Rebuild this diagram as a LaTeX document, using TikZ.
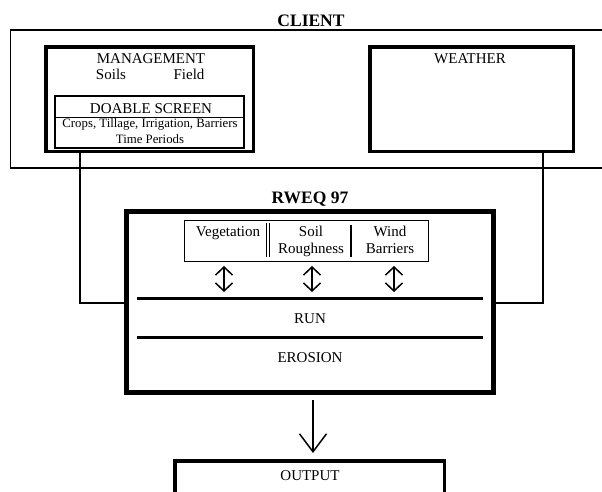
\documentclass[tikz,border=0pt]{standalone}
\usepackage{fontspec}
\setmainfont{Liberation Serif}
\usetikzlibrary{arrows.meta,positioning,calc}

\begin{document}
\begin{tikzpicture}[x=1pt,y=-1pt,
    thinbox/.style={draw,line width=1.2pt,inner sep=0pt},
    thickbox/.style={draw,line width=3.5pt,inner sep=0pt},
    lbl/.style={anchor=base,inner sep=0pt,font=\fontsize{15}{17}\selectfont},
    smalllbl/.style={anchor=base,inner sep=0pt,font=\fontsize{12.8}{15}\selectfont},
    title/.style={anchor=base,inner sep=0pt,font=\fontsize{17.5}{20}\selectfont\bfseries},
    link/.style={line width=1.5pt},
    divider/.style={line width=3pt},
    updown/.style={{Straight Barb[length=8pt,width=17pt]}-{Straight Barb[length=8pt,width=17pt]},line width=1.5pt}]
    \useasboundingbox (0,0) rectangle (602,491);
    % client side
    \node[title] (clienttitle) at (311,26) {CLIENT};
    \node[thinbox,minimum width=629.5pt,minimum height=138pt] (client) at (325.25,99) {};
    \node[thickbox,minimum width=207.5pt,minimum height=104.5pt] (mgmt) at (149.5,99) {};
    \node[lbl] (mgmttitle) at (151,63) {MANAGEMENT};
    \node[lbl] (soils) at (111,79) {Soils};
    \node[lbl] (field) at (189,79) {Field};
    \node[thinbox,minimum width=189pt,minimum height=52pt] (doable) at (149.5,122) {};
    \draw[line width=1pt] (doable.west |- 0,117) -- (doable.east |- 0,117);
    \node[lbl] (doabletitle) at (151,113) {DOABLE SCREEN};
    \node[smalllbl] (crops) at (150,127) {Crops, Tillage, Irrigation, Barriers};
    \node[smalllbl] (periods) at (150,143) {Time Periods};
    \node[thickbox,minimum width=203.5pt,minimum height=104.5pt] (weather) at (471.5,99) {};
    \node[lbl] (weathertitle) at (470,63) {WEATHER};
    % model
    \node[title] (rweqtitle) at (310,203) {RWEQ 97};
    \node[draw,line width=5pt,inner sep=0pt,minimum width=367pt,minimum height=181pt] (rweq) at (310,302) {};
    \node[thinbox,minimum width=244pt,minimum height=41pt] (factors) at (306.5,241) {};
    \node[lbl] (veg) at (228,236) {Vegetation};
    \node[lbl] (soil) at (311,236) {Soil};
    \node[lbl] (rough) at (311,253) {Roughness};
    \node[lbl] (wind) at (390,236) {Wind};
    \node[lbl] (barriers) at (390,253) {Barriers};
    \draw[line width=0.9pt] (266.5,223) -- (266.5,257) (269.5,223) -- (269.5,257);
    \draw[line width=2pt] (351,225) -- (351,257);
    \coordinate (runtop) at (137,298);
    \coordinate (runbot) at (137,337);
    \draw[divider] (runtop) -- (483,298);
    \draw[divider] (runbot) -- (483,337);
    \foreach \ax in {224,312,394}
        \draw[updown] (\ax,266) -- (\ax,292);
    \node[lbl] (run) at (310,323) {RUN};
    \node[lbl] (erosion) at (310,362) {EROSION};
    % links from client to model
    \coordinate (mlink) at (80,303);
    \coordinate (wlink) at (543,303);
    \draw[link] (mgmt.south -| mlink) |- (rweq.west |- mlink);
    \draw[link] (weather.south -| wlink) |- (rweq.east |- wlink);
    % output
    \node[thickbox,minimum width=269.5pt,minimum height=60pt] (output) at (309.5,490.75) {};
    \node[lbl] (outputtitle) at (310,480) {OUTPUT};
    \coordinate (outarrow) at (313,400);
    \draw[-{Straight Barb[length=18pt,width=27pt]},line width=1.5pt,shorten >=6pt] (outarrow) -- (outarrow |- output.north);
\end{tikzpicture}
\end{document}
